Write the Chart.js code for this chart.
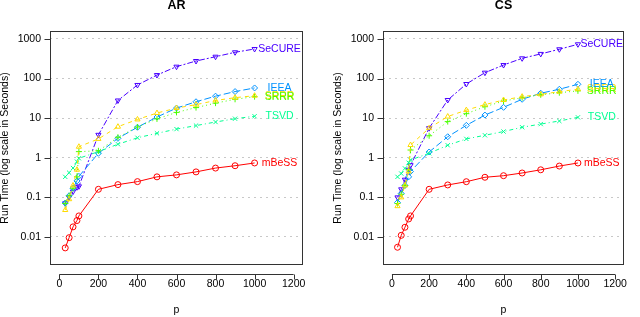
<!DOCTYPE html>
<html>
<head>
<meta charset="utf-8">
<script src="https://cdn.jsdelivr.net/npm/chart.js@4.4.1/dist/chart.umd.min.js"></script>
<style>
  body { margin: 0; background: #fff; }
  #wrap { width: 640px; height: 317px; display: flex; }
  canvas { display: block; }
</style>
</head>
<body>
<div id="wrap">
  <canvas id="ar_chart" width="320" height="317"></canvas>
  <canvas id="cs_chart" width="320" height="317"></canvas>
</div>
<script>
// x values (p) and axis ticks
const p_values = [30, 50, 70, 90, 100, 200, 300, 400, 500, 600, 700, 800, 900, 1000];
const x_ticks = [0, 200, 400, 600, 800, 1000, 1200];
const y_ticks = [0.01, 0.1, 1, 10, 100, 1000];
const y_tick_labels = ['0.01', '0.1', '1', '10', '100', '1000'];

const method_names = ['mBeSS', 'SRRR', 'SRRR', 'TSVD', 'IEEA', 'SeCURE'];

// AR panel, run time in seconds
const ar_mbess  = [0.0053, 0.0096, 0.018, 0.026, 0.034, 0.16, 0.21, 0.25, 0.33, 0.37, 0.44, 0.55, 0.63, 0.74];
const ar_srrr_a = [0.048, 0.09, 0.2, 0.5, 1.9, 3.0, 6.1, 9.3, 13.5, 18, 22, 28, 33, 37];
const ar_srrr_b = [0.07, 0.11, 0.17, 0.33, 1.43, 1.5, 3.3, 6.0, 9.6, 14, 18.5, 24, 30, 35];
const ar_tsvd   = [0.33, 0.42, 0.55, 0.8, 0.97, 1.43, 2.2, 3.2, 4.15, 5.3, 6.5, 8.0, 9.7, 11.2];
const ar_ieea   = [0.072, 0.11, 0.17, 0.26, 0.34, 1.3, 3.1, 5.9, 10.7, 18, 26, 36, 47, 58];
const ar_secure = [0.071, 0.1, 0.14, 0.18, 0.19, 3.8, 28, 69, 123, 200, 278, 357, 462, 559];

// CS panel, run time in seconds
const cs_mbess  = [0.0055, 0.011, 0.0176, 0.0285, 0.034, 0.16, 0.206, 0.249, 0.322, 0.353, 0.413, 0.497, 0.618, 0.739];
const cs_srrr_a = [0.06, 0.1, 0.2, 0.45, 2.1, 5.6, 11, 16, 22, 28.8, 35, 40, 46.7, 54];
const cs_srrr_b = [0.07, 0.12, 0.2, 0.5, 1.57, 3.6, 8.2, 13, 19.5, 27, 33, 39, 44, 49];
const cs_tsvd   = [0.33, 0.4, 0.54, 0.75, 0.88, 1.3, 2.07, 3.0, 3.7, 4.6, 5.9, 7.1, 8.5, 10.5];
const cs_ieea   = [0.074, 0.125, 0.2, 0.33, 0.45, 1.4, 3.4, 6.6, 12, 18.8, 30, 42.7, 53.8, 71.8];
const cs_secure = [0.1, 0.16, 0.28, 0.5, 0.65, 5.6, 28.8, 73, 141, 220, 325, 420, 550, 735];

// styles (R rainbow(7) colours, pch 1..6, lty 1..6)
const colors = ['#FF0000', '#FFDB00', '#49FF00', '#00FF92', '#0092FF', '#4900FF'];
const point_styles = ['circle', 'triangle', 'cross', 'crossRot', 'rectRot', 'triangle'];
const point_rotations = [0, 0, 0, 0, 0, 180];
const dashes = [[], [4, 4], [1, 3], [1, 3, 4, 3], [7, 3], [2, 2, 6, 2]];
const label_x = 1128;
const FONT = '"Liberation Sans", Arial, Helvetica, sans-serif';

// draws the box, tick marks, axis line, end labels and titles
const frame_plugin = {
  id: 'frame_plugin',
  afterDatasetsDraw(chart) {
    const ctx = chart.ctx;
    const xs = chart.scales.x, ys = chart.scales.y;
    ctx.save();
    ctx.font = '10.5px ' + FONT;
    ctx.textAlign = 'center';
    ctx.textBaseline = 'middle';
    chart.data.datasets.forEach(ds => {
      const last = ds.data[ds.data.length - 1];
      ctx.fillStyle = ds.borderColor;
      ctx.fillText(ds.label, xs.getPixelForValue(label_x), ys.getPixelForValue(last.y));
    });
    ctx.restore();
  },
  afterDraw(chart, args, opts) {
    const ctx = chart.ctx;
    const a = chart.chartArea;
    const xs = chart.scales.x, ys = chart.scales.y;
    ctx.save();
    ctx.strokeStyle = '#333';
    ctx.lineWidth = 1;
    ctx.setLineDash([]);
    const L = Math.round(a.left) + 0.5, T = Math.round(a.top) + 0.5;
    const R = Math.round(a.right) - 0.5, B = Math.round(a.bottom) - 0.5;
    ctx.strokeRect(L, T, R - L, B - T);

    // y tick marks
    ctx.beginPath();
    y_ticks.forEach(v => {
      const y = Math.round(ys.getPixelForValue(v)) + 0.5;
      ctx.moveTo(L - 6, y);
      ctx.lineTo(L, y);
    });
    // x axis line below the box
    const ay = Math.round(a.bottom) + 9.5;
    ctx.moveTo(xs.getPixelForValue(x_ticks[0]), ay);
    ctx.lineTo(xs.getPixelForValue(x_ticks[x_ticks.length - 1]), ay);
    x_ticks.forEach(v => {
      const x = Math.round(xs.getPixelForValue(v)) + 0.5;
      ctx.moveTo(x, ay);
      ctx.lineTo(x, ay + 5);
    });
    ctx.stroke();

    const cx = (a.left + a.right) / 2;
    const cy = (a.top + a.bottom) / 2;
    ctx.fillStyle = '#000';
    ctx.textAlign = 'center';
    ctx.textBaseline = 'middle';
    ctx.font = 'bold 12.5px ' + FONT;
    ctx.fillText(opts.title, cx, 6);

    ctx.font = '10.5px ' + FONT;
    ctx.fillText('p', cx, 310);

    ctx.translate(a.left - 45, cy);
    ctx.rotate(-Math.PI / 2);
    ctx.fillText('Run Time (log scale in Seconds)', 0, 0);
    ctx.restore();
  }
};

function make_datasets(series_list) {
  return series_list.map((vals, i) => ({
    label: method_names[i],
    data: p_values.map((p, j) => ({ x: p, y: vals[j] })),
    borderColor: colors[i],
    borderWidth: 1,
    borderDash: dashes[i],
    pointStyle: point_styles[i],
    pointRotation: point_rotations[i],
    pointRadius: 3,
    pointBorderWidth: 1,
    pointBackgroundColor: 'rgba(0,0,0,0)',
    pointBorderColor: colors[i],
    fill: false,
    tension: 0
  }));
}

function make_chart(canvas_id, title, series_list, y_width, right_pad) {
  const ctx = document.getElementById(canvas_id).getContext('2d');
  return new Chart(ctx, {
    type: 'line',
    data: { datasets: make_datasets(series_list) },
    plugins: [frame_plugin],
    options: {
      responsive: false,
      animation: false,
      layout: { padding: { left: 0, right: right_pad, top: 31, bottom: 0 } },
      plugins: {
        legend: { display: false },
        tooltip: { enabled: false },
        frame_plugin: { title: title }
      },
      scales: {
        x: {
          type: 'linear',
          min: -48,
          max: 1248,
          afterBuildTicks: s => { s.ticks = x_ticks.map(v => ({ value: v })); },
          afterFit: s => { s.height = 52; },
          grid: { display: false, drawTicks: false },
          border: { display: false },
          ticks: {
            autoSkip: false,
            maxRotation: 0,
            padding: 13,
            color: '#000',
            font: { family: FONT, size: 10.5 },
            callback: (value) => String(value)
          }
        },
        y: {
          type: 'logarithmic',
          min: 0.00196,
          max: 1592,
          afterBuildTicks: s => { s.ticks = y_ticks.map(v => ({ value: v })); },
          afterFit: s => { s.width = y_width; },
          grid: { color: '#c8c8c8', lineWidth: 1, drawTicks: false },
          border: { display: false, dash: [2, 4] },
          ticks: {
            padding: 9,
            color: '#000',
            font: { family: FONT, size: 10.5 },
            callback: (value) => {
              const k = y_ticks.indexOf(value);
              return k >= 0 ? y_tick_labels[k] : '';
            }
          }
        }
      }
    }
  });
}

make_chart('ar_chart', 'AR', [ar_mbess, ar_srrr_a, ar_srrr_b, ar_tsvd, ar_ieea, ar_secure], 50, 17);
make_chart('cs_chart', 'CS', [cs_mbess, cs_srrr_a, cs_srrr_b, cs_tsvd, cs_ieea, cs_secure], 63, 3);
</script>
</body>
</html>
